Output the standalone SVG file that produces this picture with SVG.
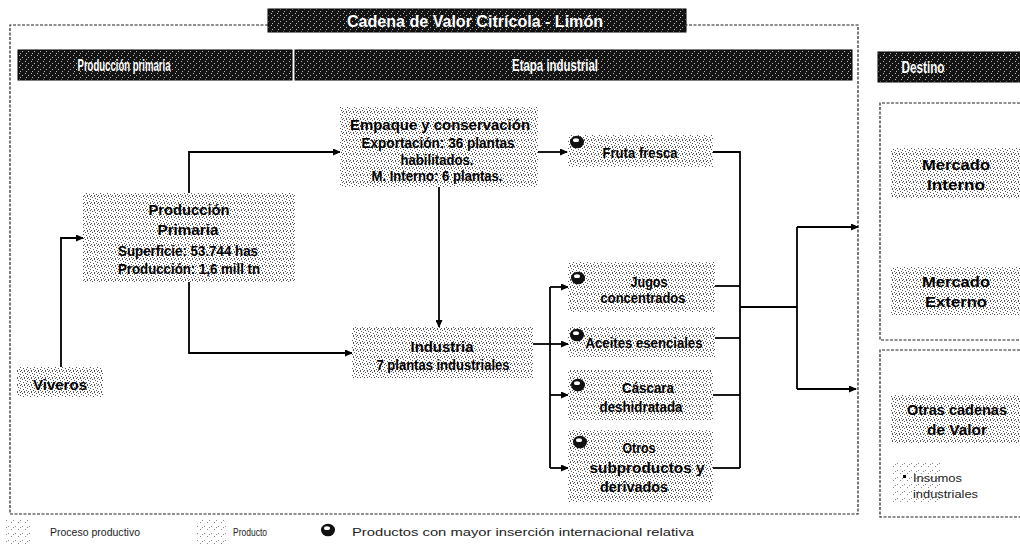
<svg xmlns="http://www.w3.org/2000/svg" xmlns:xlink="http://www.w3.org/1999/xlink" width="1020" height="544" viewBox="0 0 1020 544">
<defs>
<pattern id="stip" width="7" height="7" patternUnits="userSpaceOnUse">
<rect width="7" height="7" fill="#fff"/>
<g fill="#555">
<rect x="1" y="1" width="1" height="1"/><rect x="4" y="2" width="1" height="1"/><rect x="2" y="4" width="1" height="1"/><rect x="5" y="5" width="1" height="1"/><rect x="6" y="0" width="1" height="1"/><rect x="0" y="6" width="1" height="1"/><rect x="3" y="6" width="1" height="1"/><rect x="6" y="3" width="1" height="1"/><rect x="3" y="0" width="1" height="1"/>
</g>
</pattern>
<pattern id="stipL" width="7" height="7" patternUnits="userSpaceOnUse">
<rect width="7" height="7" fill="#fff"/>
<g fill="#888">
<rect x="1" y="1" width="1" height="1"/><rect x="4" y="4" width="1" height="1"/><rect x="6" y="2" width="1" height="1"/>
</g>
</pattern>
<pattern id="dark" width="6" height="6" patternUnits="userSpaceOnUse">
<rect width="6" height="6" fill="#141414"/>
<g fill="#bbb">
<rect x="1" y="1" width="1" height="1"/><rect x="4" y="3" width="1" height="1"/><rect x="2" y="5" width="1" height="1"/>
</g>
</pattern>
<marker id="arr" markerWidth="8" markerHeight="7" refX="7" refY="3.5" orient="auto" markerUnits="userSpaceOnUse">
<path d="M0,0 L8,3.5 L0,7 z" fill="#000"/>
</marker>
<g id="ico">
<ellipse cx="0" cy="0" rx="7" ry="6.3" fill="#111"/>
<ellipse cx="-1" cy="-1.8" rx="3" ry="1.9" fill="#fff"/>
</g>
<style>
.box{fill:url(#stip);}
.hdr{fill:url(#dark);stroke:#000;stroke-width:1;}
.t{font-family:"Liberation Sans",Arial,sans-serif;font-weight:bold;font-size:14px;fill:#000;text-anchor:middle;}
.h{font-family:"Liberation Sans",Arial,sans-serif;font-weight:bold;font-size:17px;fill:#fff;text-anchor:middle;}
.l{font-family:"Liberation Sans",Arial,sans-serif;font-size:11.5px;fill:#222;}
.frame{fill:none;stroke:#222;stroke-width:1.2;stroke-dasharray:3 1.5;}
.c{fill:none;stroke:#000;stroke-width:1.8;}
.ca{fill:none;stroke:#000;stroke-width:1.8;marker-end:url(#arr);}
</style>
</defs>
<rect width="1020" height="544" fill="#fff"/>

<g id="frames">
<path class="frame" d="M268,25 H10 V514 H858 V25 H686"/>
<path class="frame" d="M1020,103 H880 V340 H1020"/>
<path class="frame" d="M1020,350 H880 V517 H1020"/>
</g>

<g id="title">
<rect class="hdr" x="268" y="9" width="418" height="23"/>
<text class="h" x="475" y="27" textLength="256" lengthAdjust="spacingAndGlyphs">Cadena de Valor Citrícola - Limón</text>
</g>
<g id="hdr-primaria">
<rect class="hdr" x="18" y="50" width="274" height="30"/>
<text class="h" x="124" y="71" textLength="93" lengthAdjust="spacingAndGlyphs">Producción primaria</text>
</g>
<g id="hdr-industrial">
<rect class="hdr" x="295" y="50" width="557" height="30"/>
<text class="h" x="555" y="71" textLength="86" lengthAdjust="spacingAndGlyphs">Etapa industrial</text>
</g>
<g id="hdr-destino">
<rect class="hdr" x="878" y="52" width="150" height="30"/>
<text class="h" x="923" y="73" textLength="43" lengthAdjust="spacingAndGlyphs">Destino</text>
</g>

<g id="connectors">
<path class="ca" d="M61,367 V238 H83"/>
<path class="ca" d="M189,193 V152 H340"/>
<path class="ca" d="M189,282 V353 H352"/>
<path class="ca" d="M439,187 V327"/>
<path class="ca" d="M538,152 H567"/>
<path class="c" d="M533,344 H550" stroke-width="3"/>
<path class="c" d="M550,287 V468"/>
<path class="ca" d="M550,287 H568"/>
<path class="ca" d="M550,344 H568"/>
<path class="ca" d="M550,395 H568"/>
<path class="ca" d="M550,468 H568"/>
<path class="c" d="M713,152 H740 V468"/>
<path class="c" d="M715,286 H740"/>
<path class="c" d="M715,338 H740"/>
<path class="c" d="M713,395 H740"/>
<path class="c" d="M713,468 H740"/>
<path class="c" d="M740,307 H797"/>
<path class="c" d="M797,227 V389"/>
<path class="ca" d="M797,227 H858"/>
<path class="ca" d="M797,389 H856"/>
</g>

<g id="viveros">
<rect class="box" x="17" y="367" width="86" height="30"/>
<text class="t" x="60" y="390" textLength="54" lengthAdjust="spacingAndGlyphs">Viveros</text>
</g>
<g id="produccion-primaria">
<rect class="box" x="83" y="193" width="212" height="89"/>
<text class="t" x="189" y="215" textLength="81" lengthAdjust="spacingAndGlyphs">Producción</text>
<text class="t" x="188" y="235" textLength="61" lengthAdjust="spacingAndGlyphs">Primaria</text>
<text class="t" x="188" y="256" textLength="140" lengthAdjust="spacingAndGlyphs">Superficie: 53.744 has</text>
<text class="t" x="189" y="274" textLength="142" lengthAdjust="spacingAndGlyphs">Producción: 1,6 mill tn</text>
</g>
<g id="empaque">
<rect class="box" x="340" y="107" width="198" height="80"/>
<text class="t" x="440" y="130" textLength="180" lengthAdjust="spacingAndGlyphs">Empaque y conservación</text>
<text class="t" x="438" y="148" textLength="153" lengthAdjust="spacingAndGlyphs">Exportación: 36 plantas</text>
<text class="t" x="437" y="165" textLength="73" lengthAdjust="spacingAndGlyphs">habilitados.</text>
<text class="t" x="437" y="181" textLength="131" lengthAdjust="spacingAndGlyphs">M. Interno: 6 plantas.</text>
</g>
<g id="industria">
<rect class="box" x="352" y="327" width="181" height="51"/>
<text class="t" x="442" y="352" textLength="63" lengthAdjust="spacingAndGlyphs">Industria</text>
<text class="t" x="443" y="370" textLength="133" lengthAdjust="spacingAndGlyphs">7 plantas industriales</text>
</g>
<g id="fruta-fresca">
<rect class="box" x="568" y="135" width="145" height="32"/>
<use xlink:href="#ico" x="577" y="142"/>
<text class="t" x="640" y="158" textLength="75" lengthAdjust="spacingAndGlyphs">Fruta fresca</text>
</g>
<g id="jugos">
<rect class="box" x="568" y="262" width="147" height="50"/>
<use xlink:href="#ico" x="578" y="278"/>
<text class="t" x="649" y="287" textLength="37" lengthAdjust="spacingAndGlyphs">Jugos</text>
<text class="t" x="643" y="303" textLength="85" lengthAdjust="spacingAndGlyphs">concentrados</text>
</g>
<g id="aceites">
<rect class="box" x="568" y="327" width="147" height="30"/>
<use xlink:href="#ico" x="577" y="335"/>
<text class="t" x="644" y="348" textLength="117" lengthAdjust="spacingAndGlyphs">Aceites esenciales</text>
</g>
<g id="cascara">
<rect class="box" x="568" y="370" width="145" height="50"/>
<use xlink:href="#ico" x="578" y="385"/>
<text class="t" x="648" y="393" textLength="52" lengthAdjust="spacingAndGlyphs">Cáscara</text>
<text class="t" x="641" y="412" textLength="83" lengthAdjust="spacingAndGlyphs">deshidratada</text>
</g>
<g id="otros">
<rect class="box" x="568" y="430" width="145" height="72"/>
<use xlink:href="#ico" x="580" y="442"/>
<text class="t" x="639" y="453" textLength="33" lengthAdjust="spacingAndGlyphs">Otros</text>
<text class="t" x="647" y="473" textLength="115" lengthAdjust="spacingAndGlyphs">subproductos y</text>
<text class="t" x="634" y="492" textLength="68" lengthAdjust="spacingAndGlyphs">derivados</text>
</g>
<g id="mercado-interno">
<rect class="box" x="891" y="148" width="135" height="50"/>
<text class="t" x="956" y="170" textLength="68" lengthAdjust="spacingAndGlyphs">Mercado</text>
<text class="t" x="956" y="190" textLength="58" lengthAdjust="spacingAndGlyphs">Interno</text>
</g>
<g id="mercado-externo">
<rect class="box" x="891" y="267" width="135" height="48"/>
<text class="t" x="956" y="287" textLength="68" lengthAdjust="spacingAndGlyphs">Mercado</text>
<text class="t" x="956" y="307" textLength="62" lengthAdjust="spacingAndGlyphs">Externo</text>
</g>
<g id="otras-cadenas">
<rect class="box" x="891" y="395" width="135" height="48"/>
<text class="t" x="957" y="415" textLength="100" lengthAdjust="spacingAndGlyphs">Otras cadenas</text>
<text class="t" x="957" y="435" textLength="60" lengthAdjust="spacingAndGlyphs">de Valor</text>
</g>
<g id="insumos">
<rect x="891" y="463" width="50" height="39" fill="url(#stipL)"/>
<rect x="903" y="475" width="3" height="3" fill="#000"/>
<text class="l" x="913" y="482" textLength="49" lengthAdjust="spacingAndGlyphs">Insumos</text>
<text class="l" x="913" y="498" textLength="65" lengthAdjust="spacingAndGlyphs">industriales</text>
</g>

<g id="legend">
<rect x="5" y="520" width="27" height="24" fill="url(#stipL)"/>
<text class="l" x="50" y="536" textLength="90" lengthAdjust="spacingAndGlyphs">Proceso productivo</text>
<rect x="197" y="520" width="30" height="24" fill="url(#stipL)"/>
<text class="l" x="233" y="536" textLength="34" lengthAdjust="spacingAndGlyphs">Producto</text>
<use xlink:href="#ico" x="328" y="530"/>
<text class="l" x="352" y="536" textLength="342" lengthAdjust="spacingAndGlyphs">Productos con mayor inserción internacional relativa</text>
</g>
</svg>
